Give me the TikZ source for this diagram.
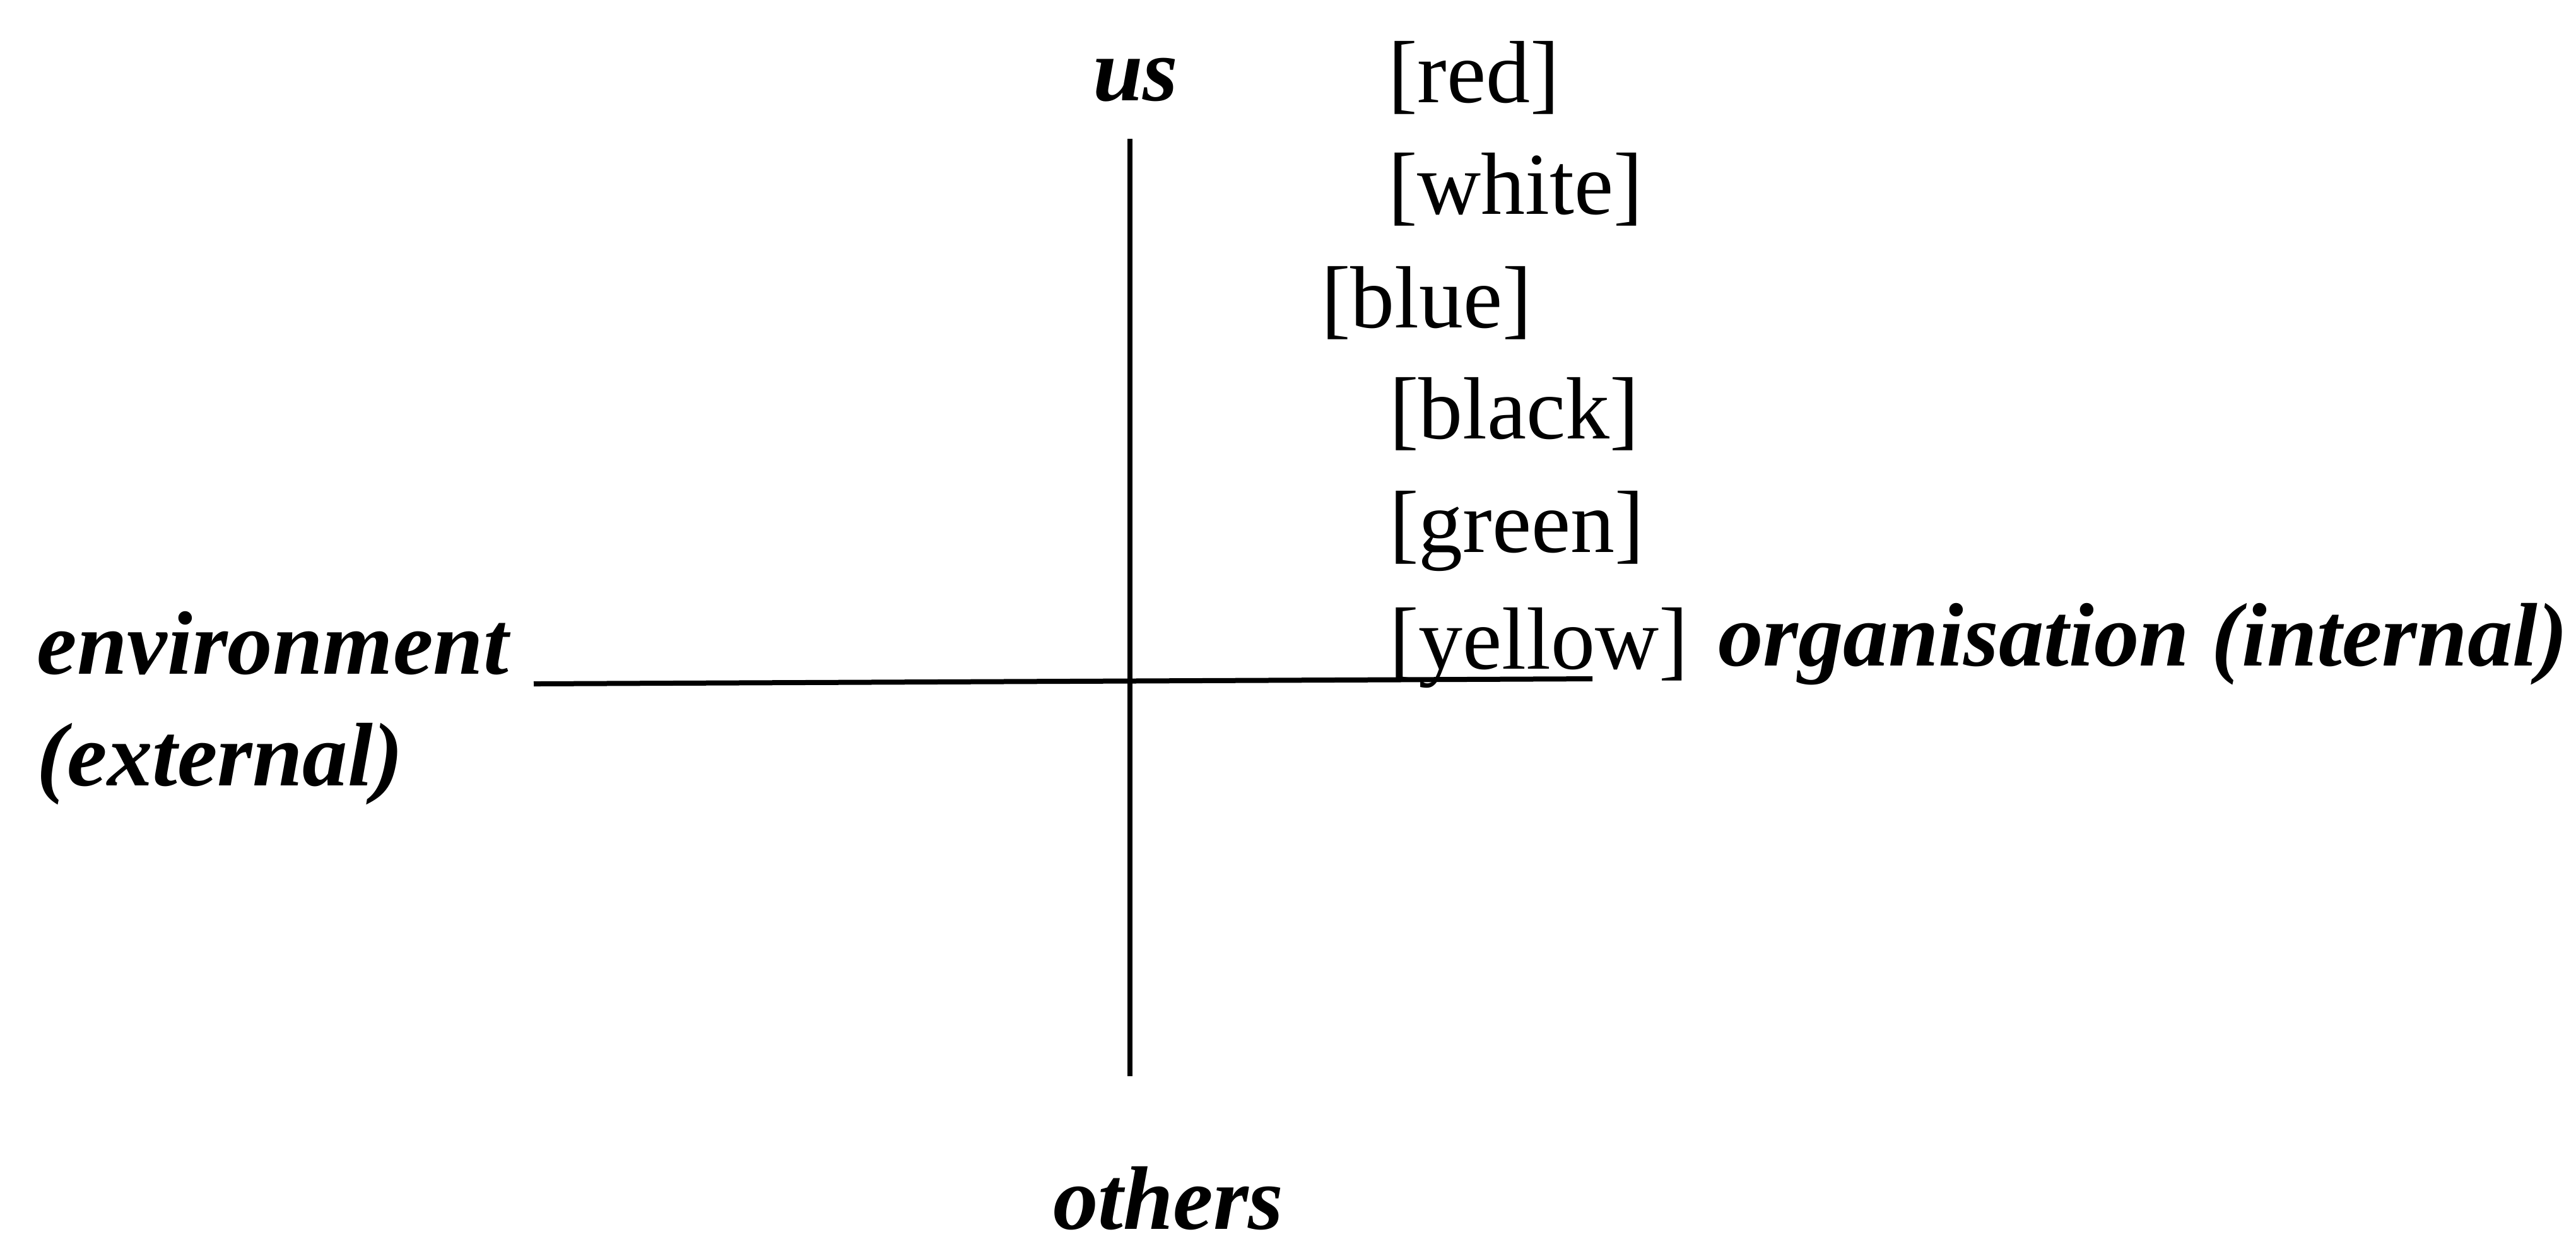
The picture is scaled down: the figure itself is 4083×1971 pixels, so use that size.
\documentclass[tikz,border=0pt]{standalone}
\usepackage{fontspec}
\setmainfont{Liberation Serif}
\begin{document}
\begin{tikzpicture}[x=0.1pt,y=-0.1pt,
  lbl/.style={inner sep=0pt,anchor=base west,font=\fontsize{14}{16}\selectfont},
  axlbl/.style={inner sep=0pt,anchor=base west,font=\fontsize{14.3}{16}\selectfont\bfseries\itshape},
  axis/.style={line width=0.8pt,black}]
\useasboundingbox (0,0) rectangle (4083,1971);
% axis labels
\node[axlbl] (us) at (1730,159) {us};
\node[axlbl] (others) at (1667,1948) {others};
\node[axlbl] (env) at (57,1068) {environment};
\node[axlbl] (ext) at (57,1245) {(external)};
\node[axlbl] (org) at (2721,1055) {organisation (internal)};
% colour list
\node[lbl] (red) at (2198,162) {[red]};
\node[lbl] (white) at (2198,339) {[white]};
\node[lbl] (blue) at (2092,519) {[blue]};
\node[lbl] (black) at (2200,695) {[black]};
\node[lbl] (green) at (2200,875) {[green]};
\node[lbl] (yellow) at (2200,1060) {[yellow]};
% axes
\coordinate (vtop) at (1791,220);
\coordinate (vbot) at (1791,1706);
\coordinate (hleft) at (846,1084);
\coordinate (hright) at (2524,1076);
\draw[axis] (vtop) -- (vbot);
\draw[axis] (hleft) -- (hright);
\end{tikzpicture}
\end{document}
